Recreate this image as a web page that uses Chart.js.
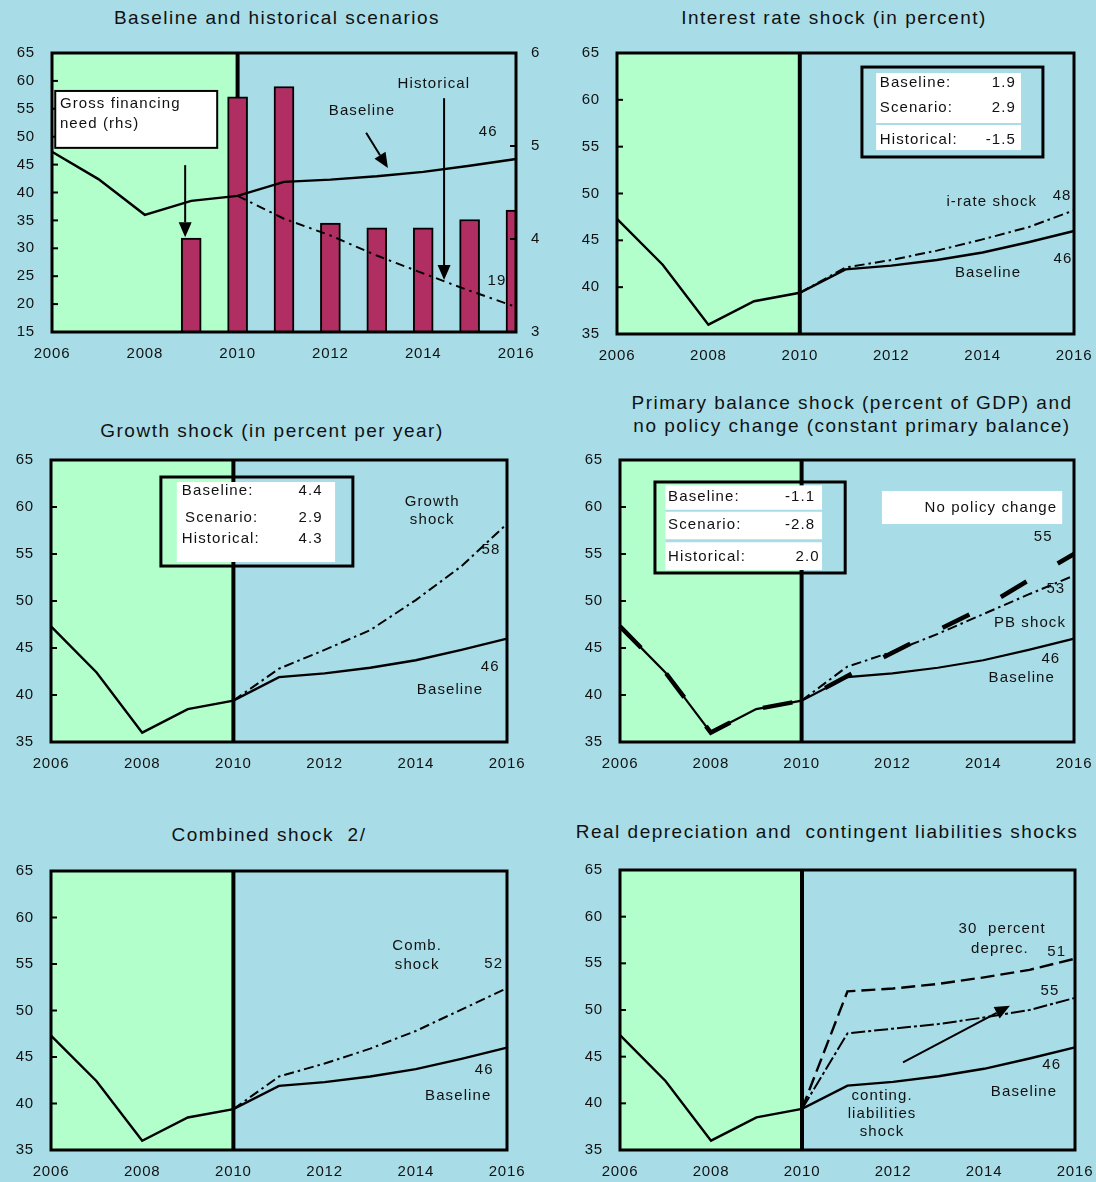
<!DOCTYPE html>
<html>
<head>
<meta charset="utf-8">
<script src="https://cdn.jsdelivr.net/npm/chart.js@4.4.0/dist/chart.umd.min.js"></script>
<style>
  html, body { margin: 0; padding: 0; background: #A8DDE8; }
  body { width: 1096px; height: 1182px; position: relative; overflow: hidden;
         font-family: "Liberation Sans", Arial, sans-serif; }
  .title { position: absolute; font-size: 19px; line-height: 23px; color: #111; letter-spacing: 1.5px;
           white-space: nowrap; transform: translateX(-50%); text-align: center; }
  canvas { position: absolute; }
</style>
</head>
<body>

<div class="title" style="left:277px; top:6px;">Baseline and historical scenarios</div>
<div class="title" style="left:834px; top:6px;">Interest rate shock (in percent)</div>
<div class="title" style="left:272px; top:419px;">Growth shock (in percent per year)</div>
<div class="title" style="left:852px; top:391px;">Primary balance shock (percent of GDP) and<br>no policy change (constant primary balance)</div>
<div class="title" style="left:269px; top:823px;">Combined shock&nbsp; 2/</div>
<div class="title" style="left:827px; top:820px;">Real depreciation and&nbsp; contingent liabilities shocks</div>

<canvas id="p1"></canvas>
<canvas id="p2"></canvas>
<canvas id="p3"></canvas>
<canvas id="p4"></canvas>
<canvas id="p5"></canvas>
<canvas id="p6"></canvas>

<script>
// ---- data (public debt, percent of GDP) ----
const years = [2006, 2007, 2008, 2009, 2010, 2011, 2012, 2013, 2014, 2015, 2016];
const yearTicks = [2006, 2008, 2010, 2012, 2014, 2016];
const debtTicksTop = [15, 20, 25, 30, 35, 40, 45, 50, 55, 60, 65];
const debtTicks = [35, 40, 45, 50, 55, 60, 65];
const gfnTicks = [3, 4, 5, 6];
const projectionStart = 2010;

const baseline        = [47.3, 42.4, 36.0, 38.5, 39.4, 41.9, 42.3, 42.9, 43.7, 44.8, 46.0];
const historical      = [null, null, null, null, 39.4, 35.3, 32.3, 28.7, 25.5, 22.4, 19.5];
const grossFinancing  = [null, null, null, 4.01, 5.53, 5.64, 4.17, 4.12, 4.12, 4.21, 4.31];
const interestShock   = [null, null, null, null, 39.4, 42.1, 42.9, 43.9, 45.1, 46.4, 48.2];
const growthShock     = [null, null, null, null, 39.4, 42.8, 44.8, 46.9, 50.1, 53.7, 58.2];
const pbShock         = [null, null, null, null, 39.4, 43.0, 44.6, 46.5, 48.6, 50.7, 52.7];
const noPolicyChange  = [47.3, 42.4, 36.0, 38.5, 39.4, 42.0, 44.5, 46.9, 49.3, 52.2, 55.0];
const combinedShock   = [null, null, null, null, 39.4, 42.9, 44.3, 45.9, 47.8, 50.1, 52.4];
const depreciation30  = [null, null, null, null, 39.4, 52.0, 52.3, 52.8, 53.5, 54.3, 55.5];
const contingentLiab  = [null, null, null, null, 39.4, 47.5, 48.0, 48.5, 49.2, 50.0, 51.3];

const FONT = '"Liberation Sans", Arial, sans-serif';
const BG = '#A8DDE8';
const GREEN = '#B3FFCC';
const INK = '#111111';
const BAR = '#B02E62';

const pts = arr => arr.map((v, i) => ({ x: years[i], y: v }));

// Text, boxes and arrows placed in data units (x = year, y = debt scale)
const notes = {
  p1: [
    { box: [2006.07, 58.2, 2009.56, 48.0], fill: '#FFFFFF', stroke: '#000', lw: 2 },
    { text: 'Gross financing', x: 2006.17, y: 55.9, align: 'left' },
    { text: 'need (rhs)', x: 2006.17, y: 52.3, align: 'left' },
    { arrow: [2008.87, 44.9, 2008.87, 32.0] },
    { text: 'Historical', x: 2014.23, y: 59.4 },
    { arrow: [2014.45, 56.9, 2014.45, 24.3] },
    { text: 'Baseline', x: 2012.68, y: 54.6 },
    { arrow: [2012.77, 50.7, 2013.24, 44.4] },
    { text: '46', x: 2015.4, y: 50.8 },
    { text: '19', x: 2015.59, y: 24.1 }
  ],
  p2: [
    { box: [2011.67, 62.86, 2014.84, 54.64], fill: '#FFFFFF' },
    { line: [2011.67, 57.42, 2014.84, 57.42], color: BG, lw: 2 },
    { box: [2011.36, 63.5, 2015.32, 53.9], stroke: '#000', lw: 3 },
    { text: 'Baseline:', x: 2011.75, y: 61.8, align: 'left' },
    { text: '1.9', x: 2014.73, y: 61.8, align: 'right' },
    { text: 'Scenario:', x: 2011.75, y: 59.1, align: 'left' },
    { text: '2.9', x: 2014.73, y: 59.1, align: 'right' },
    { text: 'Historical:', x: 2011.75, y: 55.7, align: 'left' },
    { text: '-1.5', x: 2014.73, y: 55.7, align: 'right' },
    { text: 'i-rate shock', x: 2014.2, y: 49.1 },
    { text: '48', x: 2015.74, y: 49.8 },
    { text: 'Baseline', x: 2014.12, y: 41.5 },
    { text: '46', x: 2015.76, y: 43.0 }
  ],
  p3: [
    { box: [2008.76, 62.66, 2012.23, 54.15], fill: '#FFFFFF' },
    { box: [2008.41, 63.19, 2012.62, 53.72], stroke: '#000', lw: 3 },
    { text: 'Baseline:', x: 2008.87, y: 61.7, align: 'left' },
    { text: '4.4', x: 2011.96, y: 61.7, align: 'right' },
    { text: 'Scenario:', x: 2008.94, y: 58.8, align: 'left' },
    { text: '2.9', x: 2011.96, y: 58.8, align: 'right' },
    { text: 'Historical:', x: 2008.87, y: 56.6, align: 'left' },
    { text: '4.3', x: 2011.96, y: 56.6, align: 'right' },
    { text: 'Growth', x: 2014.36, y: 60.6 },
    { text: 'shock', x: 2014.36, y: 58.6 },
    { text: '58', x: 2015.65, y: 55.4 },
    { text: '46', x: 2015.63, y: 43.0 },
    { text: 'Baseline', x: 2014.75, y: 40.6 }
  ],
  p4: [
    { box: [2007.0, 62.3, 2010.45, 53.3], fill: '#FFFFFF' },
    { line: [2007.0, 59.6, 2010.45, 59.6], color: BG, lw: 2 },
    { line: [2007.0, 56.4, 2010.45, 56.4], color: BG, lw: 3 },
    { box: [2006.77, 62.66, 2010.96, 52.98], stroke: '#000', lw: 3 },
    { text: 'Baseline:', x: 2007.06, y: 61.06, align: 'left' },
    { text: '-1.1', x: 2010.3, y: 61.06, align: 'right' },
    { text: 'Scenario:', x: 2007.06, y: 58.08, align: 'left' },
    { text: '-2.8', x: 2010.3, y: 58.08, align: 'right' },
    { text: 'Historical:', x: 2007.06, y: 54.68, align: 'left' },
    { text: '2.0', x: 2010.4, y: 54.68, align: 'right' },
    { box: [2011.77, 61.7, 2015.74, 58.19], fill: '#FFFFFF' },
    { text: 'No policy change', x: 2015.63, y: 59.9, align: 'right' },
    { text: '55', x: 2015.32, y: 56.8 },
    { text: '53', x: 2015.6, y: 51.3 },
    { text: 'PB shock', x: 2015.03, y: 47.66 },
    { text: '46', x: 2015.49, y: 43.8 },
    { text: 'Baseline', x: 2014.85, y: 41.8 }
  ],
  p5: [
    { text: 'Comb.', x: 2014.03, y: 56.9 },
    { text: 'shock', x: 2014.03, y: 54.9 },
    { text: '52', x: 2015.71, y: 55.0 },
    { text: '46', x: 2015.5, y: 43.6 },
    { text: 'Baseline', x: 2014.93, y: 40.8 }
  ],
  p6: [
    { text: '30  percent', x: 2014.4, y: 58.7 },
    { text: 'deprec.', x: 2014.35, y: 56.6 },
    { text: '51', x: 2015.6, y: 56.2 },
    { text: '55', x: 2015.45, y: 52.0 },
    { text: '46', x: 2015.49, y: 44.1 },
    { text: 'Baseline', x: 2014.88, y: 41.2 },
    { text: 'conting.', x: 2011.76, y: 40.85 },
    { text: 'liabilities', x: 2011.76, y: 38.9 },
    { text: 'shock', x: 2011.76, y: 36.9 },
    { arrow: [2012.22, 44.4, 2014.57, 50.45] }
  ]
};

function drawArrow(ctx, x1, y1, x2, y2) {
  const ang = Math.atan2(y2 - y1, x2 - x1);
  const len = 15, half = 6.5;
  const bx = x2 - len * Math.cos(ang), by = y2 - len * Math.sin(ang);
  ctx.beginPath();
  ctx.moveTo(x1, y1);
  ctx.lineTo(bx, by);
  ctx.stroke();
  ctx.beginPath();
  ctx.moveTo(x2, y2);
  ctx.lineTo(bx + half * Math.sin(ang), by - half * Math.cos(ang));
  ctx.lineTo(bx - half * Math.sin(ang), by + half * Math.cos(ang));
  ctx.closePath();
  ctx.fill();
}

const panelDecor = {
  id: 'panelDecor',
  beforeDraw(chart) {
    // slightly spaced glyphs for the axis labels
    chart.ctx.letterSpacing = '0.8px';
  },
  beforeDatasetsDraw(chart) {
    const { ctx, chartArea: a } = chart;
    const x = chart.scales.x;
    const xs = x.getPixelForValue(projectionStart);
    ctx.save();
    ctx.fillStyle = GREEN;
    ctx.fillRect(a.left, a.top, xs - a.left, a.bottom - a.top);
    ctx.strokeStyle = '#000';
    ctx.lineWidth = 4;
    ctx.beginPath();
    ctx.moveTo(xs, a.top);
    ctx.lineTo(xs, a.bottom);
    ctx.stroke();
    ctx.restore();
  },
  afterDatasetsDraw(chart) {
    const { ctx, chartArea: a } = chart;
    const x = chart.scales.x, y = chart.scales.y, y2 = chart.scales.y2;
    ctx.save();
    // frame
    ctx.strokeStyle = '#000';
    ctx.lineWidth = 3;
    ctx.strokeRect(a.left, a.top, a.right - a.left, a.bottom - a.top);
    // inward tick marks
    ctx.lineWidth = 2;
    y.ticks.forEach(t => {
      const py = y.getPixelForValue(t.value);
      ctx.beginPath(); ctx.moveTo(a.left, py); ctx.lineTo(a.left + 6, py); ctx.stroke();
    });
    if (y2) {
      y2.ticks.forEach(t => {
        const py = y2.getPixelForValue(t.value);
        ctx.beginPath(); ctx.moveTo(a.right, py); ctx.lineTo(a.right - 6, py); ctx.stroke();
      });
    }
    // notes
    const list = notes[chart.canvas.id] || [];
    ctx.font = '15px ' + FONT;
    ctx.letterSpacing = '1.1px';
    ctx.textBaseline = 'middle';
    list.forEach(n => {
      if (n.box) {
        const [x1, v1, x2, v2] = n.box;
        const px1 = x.getPixelForValue(x1), px2 = x.getPixelForValue(x2);
        const py1 = y.getPixelForValue(v1), py2 = y.getPixelForValue(v2);
        if (n.fill) { ctx.fillStyle = n.fill; ctx.fillRect(px1, py1, px2 - px1, py2 - py1); }
        if (n.stroke) { ctx.strokeStyle = n.stroke; ctx.lineWidth = n.lw || 2; ctx.strokeRect(px1, py1, px2 - px1, py2 - py1); }
      } else if (n.line) {
        const [x1, v1, x2, v2] = n.line;
        ctx.strokeStyle = n.color; ctx.lineWidth = n.lw;
        ctx.beginPath();
        ctx.moveTo(x.getPixelForValue(x1), y.getPixelForValue(v1));
        ctx.lineTo(x.getPixelForValue(x2), y.getPixelForValue(v2));
        ctx.stroke();
      } else if (n.arrow) {
        const [x1, v1, x2, v2] = n.arrow;
        ctx.strokeStyle = '#000'; ctx.fillStyle = '#000'; ctx.lineWidth = 2;
        drawArrow(ctx, x.getPixelForValue(x1), y.getPixelForValue(v1),
                  x.getPixelForValue(x2), y.getPixelForValue(v2));
      } else if (n.text) {
        ctx.fillStyle = INK;
        ctx.textAlign = n.align || 'center';
        ctx.fillText(n.text, x.getPixelForValue(n.x), y.getPixelForValue(n.y));
      }
    });
    ctx.restore();
  }
};

const tickFont = { family: FONT, size: 15 };

function lineSet(data, dash, width) {
  return {
    type: 'line', data: pts(data), borderColor: '#000', borderWidth: width || 2.2,
    borderDash: dash || [], pointRadius: 0, tension: 0, spanGaps: false, order: 1,
    clip: 4
  };
}
const DASHDOT = [10, 4, 2.5, 4];

// fixed axis sizes; label overflow padding is dropped so the plot area lands exactly
function fixSize(prop, size) {
  return s => {
    s[prop] = size;
    s.paddingTop = s.paddingBottom = s.paddingLeft = s.paddingRight = 0;
  };
}

function makePanel(id, cv, plot, datasets, leftTicks, hasRight) {
  const el = document.getElementById(id);
  el.width = cv.w; el.height = cv.h;
  el.style.left = cv.left + 'px'; el.style.top = cv.top + 'px';
  const padTop = plot.t - cv.top;
  const leftW = plot.l - cv.left;
  const bottomH = cv.top + cv.h - plot.b;
  const rightW = cv.left + cv.w - plot.r;
  const scales = {
    x: {
      type: 'linear', min: 2006, max: 2016, offset: false,
      grid: { display: false, drawTicks: false, offset: false }, border: { display: false },
      afterBuildTicks: s => { s.ticks = yearTicks.map(v => ({ value: v })); },
      afterFit: fixSize('height', bottomH),
      ticks: { font: tickFont, color: INK, padding: 13, maxRotation: 0, autoSkip: false,
               callback: v => String(v) }
    },
    y: {
      type: 'linear', position: 'left', min: leftTicks[0], max: leftTicks[leftTicks.length - 1],
      grid: { display: false, drawTicks: false }, border: { display: false },
      afterBuildTicks: s => { s.ticks = leftTicks.map(v => ({ value: v })); },
      afterFit: fixSize('width', leftW),
      ticks: { font: tickFont, color: INK, padding: 17, callback: v => String(v) }
    }
  };
  if (hasRight) {
    scales.y2 = {
      type: 'linear', position: 'right', min: gfnTicks[0], max: gfnTicks[gfnTicks.length - 1],
      grid: { display: false, drawTicks: false }, border: { display: false },
      afterBuildTicks: s => { s.ticks = gfnTicks.map(v => ({ value: v })); },
      afterFit: fixSize('width', rightW),
      ticks: { font: tickFont, color: INK, padding: 15, callback: v => String(v) }
    };
  }
  return new Chart(el, {
    type: 'line',
    data: { datasets },
    options: {
      responsive: false, animation: false, devicePixelRatio: 1,
      layout: { padding: { top: padTop, left: 0, bottom: 0, right: hasRight ? 0 : rightW } },
      plugins: { legend: { display: false }, tooltip: { enabled: false }, title: { display: false } },
      scales
    },
    plugins: [panelDecor]
  });
}

// 1. Baseline and historical scenarios (bars: gross financing need, rhs)
makePanel('p1', { left: 0, top: 36, w: 548, h: 334 }, { l: 52, t: 53, r: 516, b: 332 }, [
  lineSet(baseline, [], 2.4),
  lineSet(historical, [9, 5, 2.5, 5], 2),
  {
    type: 'bar', data: pts(grossFinancing), yAxisID: 'y2', backgroundColor: BAR,
    borderColor: '#000', borderWidth: 2, barThickness: 20, order: 2, clip: 0
  }
], debtTicksTop, true);

// 2. Interest rate shock
makePanel('p2', { left: 548, top: 36, w: 548, h: 334 }, { l: 617, t: 53, r: 1074, b: 334 }, [
  lineSet(baseline, [], 2.4),
  lineSet(interestShock, DASHDOT, 2)
], debtTicks, false);

// 3. Growth shock
makePanel('p3', { left: 0, top: 445, w: 548, h: 330 }, { l: 51, t: 460, r: 507, b: 742 }, [
  lineSet(baseline, [], 2.4),
  lineSet(growthShock, DASHDOT, 2)
], debtTicks, false);

// 4. Primary balance shock and no policy change
makePanel('p4', { left: 548, top: 445, w: 548, h: 330 }, { l: 620, t: 460, r: 1074, b: 742 }, [
  lineSet(baseline, [], 2.2),
  lineSet(pbShock, DASHDOT, 2),
  lineSet(noPolicyChange, [30, 36], 4.5)
], debtTicks, false);

// 5. Combined shock
makePanel('p5', { left: 0, top: 855, w: 548, h: 327 }, { l: 51, t: 871, r: 507, b: 1150 }, [
  lineSet(baseline, [], 2.4),
  lineSet(combinedShock, DASHDOT, 2)
], debtTicks, false);

// 6. Real depreciation and contingent liabilities shocks
makePanel('p6', { left: 548, top: 855, w: 548, h: 327 }, { l: 620, t: 870, r: 1075, b: 1150 }, [
  lineSet(baseline, [], 2.4),
  lineSet(depreciation30, [14, 6], 2.4),
  lineSet(contingentLiab, [14, 3, 3, 3], 2)
], debtTicks, false);
</script>
</body>
</html>
